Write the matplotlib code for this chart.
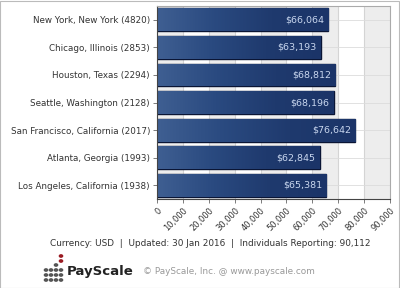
import matplotlib
matplotlib.use("Agg")
import matplotlib.pyplot as plt
import numpy as np
from matplotlib.colors import LinearSegmentedColormap

cities = ["New York, New York (4820)", "Chicago, Illinois (2853)", "Houston, Texas (2294)",
          "Seattle, Washington (2128)", "San Francisco, California (2017)",
          "Atlanta, Georgia (1993)", "Los Angeles, California (1938)"]
salaries = [66064, 63193, 68812, 68196, 76642, 62845, 65381]
xticks = [0, 10000, 20000, 30000, 40000, 50000, 60000, 70000, 80000, 90000]
xticklabels = ["0", "10,000", "20,000", "30,000", "40,000", "50,000", "60,000",
               "70,000", "80,000", "90,000"]

fig = plt.figure(figsize=(4, 2.88), dpi=100)
fig.patch.set_facecolor("white")
ax = fig.add_axes([0.3925, 0.309, 0.5825, 0.670])

n = len(cities)
ypos = np.arange(n)
ax.set_xlim(0, 90000)
ax.set_ylim(n - 0.5, -0.5)

# alternating background bands
for i in range(0, 9):
    if i % 2 == 0:
        ax.axvspan(xticks[i], xticks[i + 1], color="#ededed", zorder=0, lw=0)
for t in xticks[1:-1]:
    ax.axvline(t, color="#d4d4d4", lw=0.8, zorder=0.5)
for y in ypos:
    ax.axhline(y, color="#dcdcdc", lw=0.6, zorder=0.5)

cmap = LinearSegmentedColormap.from_list("bar", ["#3f5f92", "#2a4a80", "#1f3a6e", "#1b3468"])
grad = np.linspace(0, 1, 256).reshape(1, -1)
bars = ax.barh(ypos, salaries, height=0.83, color="#25407a", edgecolor="#0a1535",
               linewidth=1.0, zorder=2)
for b, v in zip(bars, salaries):
    x0, y0 = b.get_x(), b.get_y()
    w, h = b.get_width(), b.get_height()
    im = ax.imshow(grad, cmap=cmap, aspect="auto", extent=[x0, x0 + w, y0 + h, y0],
                   zorder=2.5, interpolation="bicubic")
    im.set_clip_path(b)
    ax.text(v - 1600, b.get_y() + h / 2, "${:,}".format(v), ha="right", va="center",
            color="#c8d6ee", fontsize=6.8, zorder=4)
ax.set_xlim(0, 90000)
ax.set_ylim(n - 0.5, -0.5)

ax.set_yticks(ypos)
ax.set_yticklabels(cities, fontsize=6.3, color="#333333")
ax.set_xticks(xticks)
ax.set_xticklabels(xticklabels, fontsize=6, color="#333333", rotation=45,
                   ha="right", rotation_mode="anchor")
ax.tick_params(axis="both", length=3, color="#666666", width=0.6, pad=2)
for s in ax.spines.values():
    s.set_color("#aaaaaa")
    s.set_linewidth(0.8)
ax.spines["left"].set_color("#444444")
ax.spines["bottom"].set_color("#444444")

fig.text(210 / 400, 1 - 243 / 288,
         "Currency: USD  |  Updated: 30 Jan 2016  |  Individuals Reporting: 90,112",
         ha="center", va="center", fontsize=6.4, color="#333333")

# logo dots
dot_cols = [(46, [266, 271, 276]), (51, [266, 271, 276]), (56, [261, 266, 271, 276]),
            (61, [252, 257, 266, 271, 276])]
for x, ys in dot_cols:
    for y in ys:
        c = "#9a1a22" if (x == 61 and y <= 257) else "#555555"
        fig.patches.append(plt.Circle((x / 400, 1 - (y + 4) / 288), 1.6 / 400,
                                      transform=fig.transFigure, color=c,
                                      figure=fig))
fig.text(67 / 400, 1 - 272 / 288, "PayScale", ha="left", va="center", fontsize=9.5,
         fontweight="bold", color="#222222")
fig.text(143 / 400, 1 - 272 / 288, "© PayScale, Inc. @ www.payscale.com",
         ha="left", va="center", fontsize=6.4, color="#999999")

fig.patches.append(plt.Rectangle((0, 0), 0.998, 0.997, transform=fig.transFigure,
                                 fill=False, edgecolor="#bbbbbb", lw=0.8, figure=fig))

fig.savefig("out.png", dpi=100)
